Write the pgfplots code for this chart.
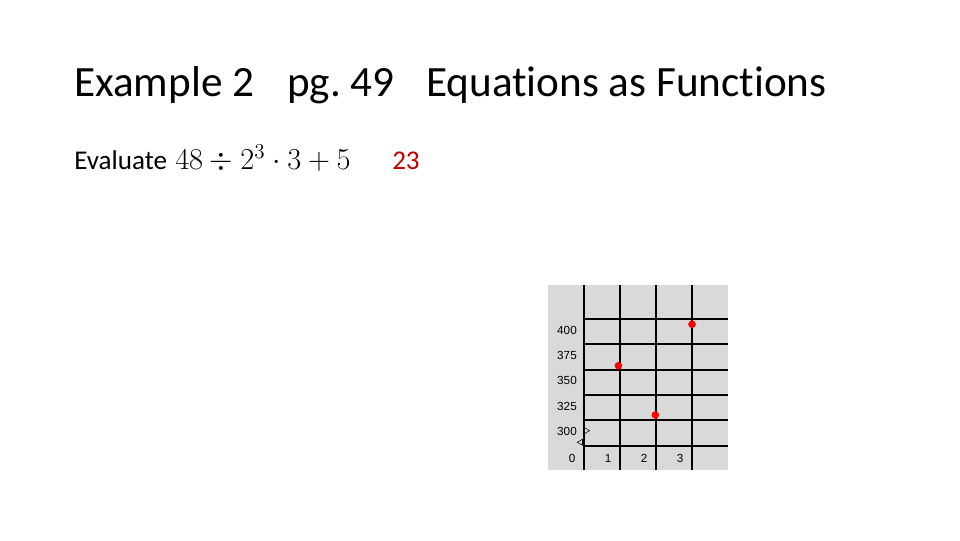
\documentclass[border=0pt]{standalone}
\usepackage{graphicx}
\usepackage{fontspec}
\setmainfont{Carlito}[Ligatures=NoCommon]
\newfontfamily\tickfont{Liberation Sans}
\usepackage{pgfplots}
\pgfplotsset{compat=1.18}
\definecolor{panel}{RGB}{217,217,217}
\definecolor{answer}{RGB}{192,0,0}
\begin{document}
\begin{tikzpicture}[x=0.75pt,y=0.75pt]
\useasboundingbox (0,0) rectangle (960,540);
% slide text, positions in pixels from the bottom-left corner
\node[anchor=base west,inner sep=0,font=\fontsize{32.4}{38}\selectfont] at (74,443) {Example 2};
\node[anchor=base west,inner sep=0,font=\fontsize{32.4}{38}\selectfont] at (287,443) {pg.\ 49};
\node[anchor=base west,inner sep=0,font=\fontsize{32.4}{38}\selectfont] at (426,443) {Equations as Functions};
\node[anchor=base west,inner sep=0,font=\fontsize{20.3}{24}\selectfont] at (74,370) {Evaluate};
\node[anchor=base west,inner sep=0,font=\fontsize{20.74}{25}\selectfont] at (175,370) {\scalebox{1.1}{$48 \div 2^3 \cdot 3 + 5$}};
\node[anchor=base west,inner sep=0,text=answer,font=\fontsize{20.3}{24}\selectfont] at (392,370) {23};

\begin{axis}[
    at={(411pt,52.5pt)}, anchor=south west,
    scale only axis,
    width=135pt, height=138.75pt,
    xmin=-1, xmax=4, ymin=251, ymax=433.5,
    axis line style={draw=none},
    axis background/.style={fill=panel},
    major tick length=0,
    xtick={-0.33,0.67,1.67,2.67}, xticklabels={0,1,2,3},
    ytick={289,314,339,364,389}, yticklabels={300,325,350,375,400},
    xticklabel style={anchor=center, yshift=9pt},
    yticklabel style={anchor=center, xshift=14.25pt},
    tick label style={font=\tickfont\fontsize{8.8}{10}\selectfont},
    /pgf/number format/assume math mode=true,
]
% grid
\addplot[black, line width=1.6pt] coordinates {(0,251) (0,433.5)};
\addplot[black, line width=1.6pt] coordinates {(1,251) (1,433.5)};
\addplot[black, line width=1.6pt] coordinates {(2,251) (2,433.5)};
\addplot[black, line width=1.6pt] coordinates {(3,251) (3,433.5)};
\addplot[black, line width=1.6pt] coordinates {(0,275) (4,275)};
\addplot[black, line width=1.6pt] coordinates {(0,300) (4,300)};
\addplot[black, line width=1.6pt] coordinates {(0,325) (4,325)};
\addplot[black, line width=1.6pt] coordinates {(0,350) (4,350)};
\addplot[black, line width=1.6pt] coordinates {(0,375) (4,375)};
\addplot[black, line width=1.6pt] coordinates {(0,400) (4,400)};
% axis break marks
\addplot[only marks, mark=triangle, mark size=2.6pt,
    mark options={rotate=-90, fill=white, draw=black, line width=0.4pt}]
    coordinates {(0.06,289.8)};
\addplot[only marks, mark=triangle, mark size=2.6pt,
    mark options={rotate=90, fill=white, draw=black, line width=0.4pt}]
    coordinates {(-0.09,278.4)};
% data
\addplot[only marks, mark=*, mark size=2.6pt, color=red]
    coordinates {(0.955,353.9) (1.98,305.3) (3.0,394.8)};
\end{axis}
\end{tikzpicture}
\end{document}
